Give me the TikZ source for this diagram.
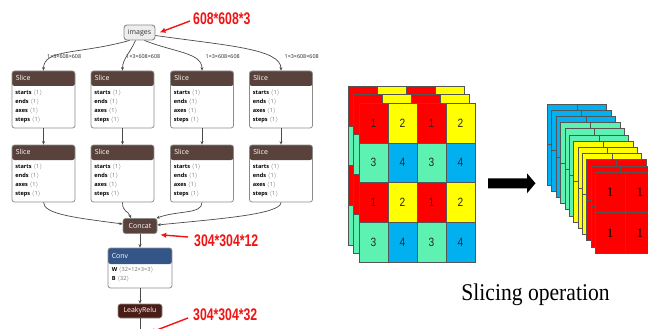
\documentclass[tikz,border=0pt]{standalone}
\usepackage{fontspec}
\setmainfont{Open Sans}
\newfontfamily\dimfont[FakeStretch=0.73]{Liberation Sans}
\newfontfamily\captionfont[FakeStretch=0.9]{Liberation Serif}
\newfontfamily\cellfont[FakeStretch=0.85]{Liberation Sans}
\newfontfamily\chanfont{Liberation Serif}
\usetikzlibrary{arrows.meta,calc}

\definecolor{tensorc}{RGB}{89,66,59}
\definecolor{layerc}{RGB}{51,85,136}
\definecolor{actc}{RGB}{75,27,22}
\definecolor{boxline}{RGB}{140,140,140}
\definecolor{edgec}{RGB}{75,75,75}
\definecolor{valc}{RGB}{110,110,110}
\definecolor{cred}{RGB}{255,0,0}
\definecolor{cyel}{RGB}{255,255,0}
\definecolor{cgrn}{RGB}{94,242,178}
\definecolor{cblu}{RGB}{0,176,240}
\definecolor{gridc}{RGB}{85,85,85}
\definecolor{dimred}{RGB}{240,20,20}

\newcommand\val[1]{{\color{valc}$\langle$#1$\rangle$}}

\tikzset{
  edge/.style={draw=edgec, line width=0.7pt, -{Stealth[length=3.5pt,width=3pt]}},
  opbox/.style={draw=boxline, line width=0.8pt, rounded corners=2.5pt,
    fill=white, inner sep=0pt},
  slicebox/.style={opbox, minimum width=63pt, minimum height=57pt,
    path picture={\fill[tensorc] (path picture bounding box.north west)
      rectangle ([yshift=-15pt]path picture bounding box.north east);}},
  convbox/.style={opbox, minimum width=64pt, minimum height=40pt,
    path picture={\fill[layerc] (path picture bounding box.north west)
      rectangle ([yshift=-16pt]path picture bounding box.north east);}},
  pill/.style={draw=boxline, line width=0.6pt, rounded corners=2.5pt,
    inner sep=0pt, text=white, font=\fontsize{7}{8}\selectfont},
  hdrtext/.style={text=white, inner sep=0pt, font=\fontsize{7}{8}\selectfont},
  bodytext/.style={inner sep=0pt, font=\fontsize{5.6}{7}\selectfont},
  shapelbl/.style={inner sep=0pt, text=black!85, font=\fontsize{5.4}{6}\selectfont},
  dimlbl/.style={inner sep=0pt, text=dimred, font=\dimfont\bfseries\fontsize{16.8}{18}\selectfont},
  dimarrow/.style={draw=dimred, line width=1.4pt, -{Latex[length=6pt,width=5.5pt]}},
  cell/.style={draw=gridc, line width=0.45pt},
}

\begin{document}
\begin{tikzpicture}[x=1pt, y=-1pt]
\useasboundingbox (0,0) rectangle (648,329);
\clip (0,0) rectangle (648,329);
\fill[white] (0,0) rectangle (648,329);

% ---------- network graph ----------
\node[draw=boxline, fill=black!7, line width=0.9pt, rounded corners=3pt,
  minimum width=31pt, minimum height=15pt, inner sep=0pt,
  text=black!80, font=\fontsize{7}{8}\selectfont] (img) at (139.5,32.5) {images};

\foreach \i/\x in {1/43.5, 2/122.5, 3/202, 4/281} {
  \node[slicebox] (a\i) at (\x,99.5) {};
  \node[slicebox] (b\i) at (\x,173.5) {};
  \foreach \r in {a,b} {
    \node[hdrtext, anchor=west] (\r\i h) at ([xshift=4pt,yshift=-7.5pt]\r\i.north west) {Slice};
    \foreach \k/\w in {0/starts,1/ends,2/axes,3/steps}
      \node[bodytext, anchor=base west] (\r\i t\k) at ([xshift=3.5pt,yshift={-24pt-9pt*\k}]\r\i.north west)
        {\textbf{\w} \val{1}};
  }
  \node[shapelbl, anchor=west] (l\i) at ([xshift=3.5pt,yshift=14pt]a\i.north) {1×3×608×608};
  \draw[edge] (a\i.south) -- (b\i.north);
}

% edges from the input
\draw[edge] ([xshift=-10pt]img.south) .. controls +(-50,14) and +(0,-22) .. (a1.north);
\draw[edge] ([xshift=-4pt]img.south) .. controls +(-5,12) and +(0,-12) .. (a2.north);
\draw[edge] ([xshift=5pt]img.south) .. controls +(30,12) and +(0,-18) .. (a3.north);
\draw[edge] ([yshift=-3pt]img.east) .. controls +(70,10) and +(0,-22) .. (a4.north);

% concat and the layers after it
\node[pill, fill=tensorc, minimum width=34pt, minimum height=15pt] (cc) at (140,226) {Concat};
\node[convbox] (cv) at (140,268) {};
\node[hdrtext, anchor=west] (cvh) at ([xshift=4pt,yshift=-8pt]cv.north west) {Conv};
\node[bodytext, anchor=base west] (cvw) at ([xshift=4pt,yshift=-24pt]cv.north west)
  {\textbf{W} \val{32×12×3×3}};
\node[bodytext, anchor=base west] (cvb) at ([xshift=4pt,yshift=-33pt]cv.north west)
  {\textbf{B} \val{32}};
\node[pill, fill=actc, minimum width=44pt, minimum height=14pt] (lr) at (140,311) {LeakyRelu};
\coordinate (lrout) at (140,331);

\draw[edge] (b1.south) .. controls +(0,12) and +(-45,-6) .. ([yshift=2pt]cc.west);
\draw[edge] (b2.south) .. controls +(0,10) and +(-3,-8) .. ([xshift=-9pt]cc.north);
\draw[edge] (b3.south) .. controls +(0,12) and +(22,-8) .. ([xshift=-1pt]cc.north east);
\draw[edge] (b4.south) .. controls +(0,12) and +(60,-6) .. ([yshift=1pt]cc.east);
\draw[edge] (cc.south) -- (cv.north);
\draw[edge] (cv.south) -- (lr.north);
\draw[draw=edgec, line width=0.7pt] (lr.south) -- (lrout);

% tensor sizes
\node[dimlbl, anchor=west] (r1) at (193,19) {608*608*3};
\node[dimlbl, anchor=west] (r2) at (194,241) {304*304*12};
\node[dimlbl, anchor=west] (r3) at (193,315) {304*304*32};
\draw[dimarrow] ([xshift=-3pt,yshift=-2pt]r1.west) -- ([xshift=4pt]img.east);
\draw[dimarrow] ([xshift=-6pt,yshift=4pt]r2.west) -- ([xshift=3pt,yshift=-1pt]cc.south east);
\draw[dimarrow] ([xshift=-5pt,yshift=-3pt]r3.west) -- ([xshift=9pt,yshift=-2pt]lrout);

% ---------- input planes (4x4 cells, three channels) ----------
\foreach \k in {0,1,2} {
  \pgfmathsetmacro\ox{348+5.5*\k}
  \pgfmathsetmacro\oy{86+8.5*\k}
  \foreach \r/\ca/\cb/\na/\nb in {0/cred/cyel/1/2, 1/cgrn/cblu/3/4, 2/cred/cyel/1/2, 3/cgrn/cblu/3/4}
    \foreach \c/\cl/\n in {0/\ca/\na, 1/\cb/\nb, 2/\ca/\na, 3/\cb/\nb} {
      \filldraw[cell, fill=\cl] (\ox+29*\c,\oy+39.75*\r) rectangle ++(29,39.75);
      \ifnum\k=2
        \node[font=\cellfont\fontsize{12}{12}\selectfont, text=black!85, inner sep=0pt]
          (n\r\c) at (\ox+29*\c+14.5,\oy+39.75*\r+19.9) {\n};
      \fi
    }
}

% slicing arrow
\fill[black] (488,178.3) -- (527,178.3) -- (527,173.3) -- (535.5,183.3)
  -- (527,193.3) -- (527,188.3) -- (488,188.3) -- cycle;

% ---------- output planes (2x2 cells, twelve channels) ----------
\foreach \j/\cl in {0/cblu,1/cblu,2/cblu,3/cgrn,4/cgrn,5/cgrn,6/cyel,7/cyel,8/cyel,9/cred,10/cred,11/cred} {
  \pgfmathsetmacro\px{547.3+4.36*\j}
  \pgfmathsetmacro\py{104+6.18*\j}
  \filldraw[cell, fill=\cl] (\px,\py) rectangle ++(59.4,81);
  \draw[cell] (\px+29.7,\py) -- ++(0,81) (\px,\py+40.5) -- ++(59.4,0);
}
\foreach \u/\x in {a/610.2, b/639.9}
  \foreach \v/\y in {a/192.3, b/232.8}
    \node[font=\chanfont\fontsize{13}{13}\selectfont, inner sep=0pt] (o\u\v) at (\x,\y) {1};

\node[font=\captionfont\fontsize{24}{28}\selectfont, anchor=base, inner sep=0pt] (cap)
  at (535.5,300) {Slicing operation};
\end{tikzpicture}
\end{document}
